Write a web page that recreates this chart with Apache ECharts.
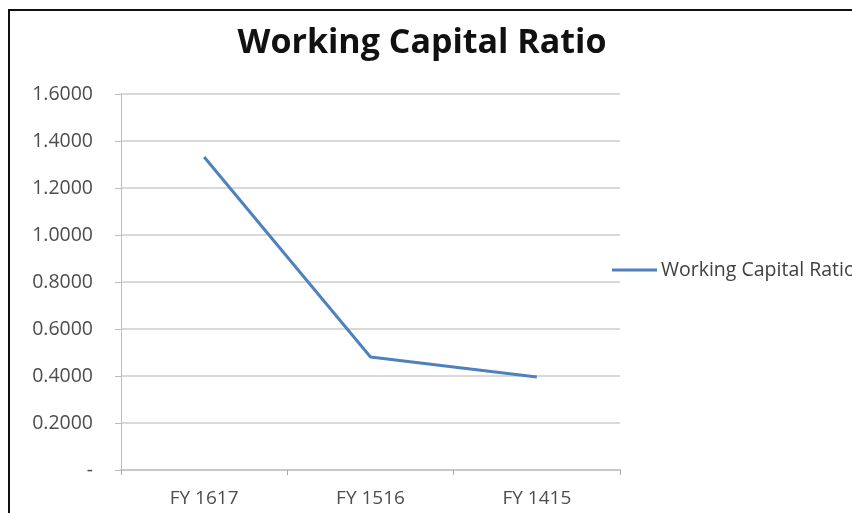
<!DOCTYPE html>
<html>
<head>
<meta charset="utf-8">
<script src="https://cdn.jsdelivr.net/npm/echarts@6/dist/echarts.min.js"></script>
<style>
  html, body { margin: 0; padding: 0; background: #fff; }
  #chart { width: 852px; height: 513px; }
  .frame {
    position: absolute;
    left: 8px;
    top: 9px;
    width: 860px;
    height: 520px;
    border-left: 2px solid #111;
    border-top: 2px solid #111;
    pointer-events: none;
  }
</style>
</head>
<body>
<div id="chart"></div>
<div class="frame"></div>
<script>
const categories = ['FY 1617', 'FY 1516', 'FY 1415']
const ratioValues = [1.332, 0.481, 0.396]
const seriesName = 'Working Capital Ratio'

const chart = echarts.init(document.getElementById('chart'))

const labelColor = '#4d4d4d'
const font = '"Open Sans", sans-serif'

chart.setOption({
  animation: false,
  title: {
    text: 'Working Capital Ratio',
    left: 417,
    textAlign: 'center',
    top: 21,
    textStyle: {
      fontFamily: font,
      fontWeight: 'bold',
      fontSize: 34,
      color: '#111',
    },
  },
  legend: {
    left: 607,
    top: 255,
    itemWidth: 45,
    itemHeight: 14,
    itemGap: 4,
    textStyle: { fontFamily: font, fontSize: 19.5, color: '#404040', padding: [0, 0, 0, -1] },
    data: [{ name: seriesName, icon: 'path://M0,0 L45,0 L45,3 L0,3 Z' }],
  },
  grid: {
    left: 121,
    right: 232,
    top: 94,
    bottom: 43,
    containLabel: false,
  },
  xAxis: {
    type: 'category',
    data: categories,
    boundaryGap: true,
    axisLine: { lineStyle: { color: '#c8c8c8', width: 2 } },
    axisTick: { show: true, length: 5, lineStyle: { color: '#a6a6a6' } },
    axisLabel: {
      color: labelColor,
      fontFamily: font,
      fontSize: 19,
      margin: 19,
    },
  },
  yAxis: {
    type: 'value',
    min: 0,
    max: 1.6,
    interval: 0.2,
    axisLine: { show: true, lineStyle: { color: '#bdbdbd' } },
    axisTick: { show: true, length: 6, lineStyle: { color: '#bdbdbd' } },
    splitLine: { lineStyle: { color: '#d9d9d9', width: 2 } },
    axisLabel: {
      color: labelColor,
      fontFamily: font,
      fontSize: 19.5,
      margin: 28,
      formatter: (value) => (value === 0 ? '-' : value.toFixed(4)),
    },
  },
  series: [
    {
      name: seriesName,
      type: 'line',
      data: ratioValues,
      symbol: 'none',
      lineStyle: { color: '#4f81bd', width: 3 },
      itemStyle: { color: '#4f81bd' },
    },
  ],
})
</script>
</body>
</html>
